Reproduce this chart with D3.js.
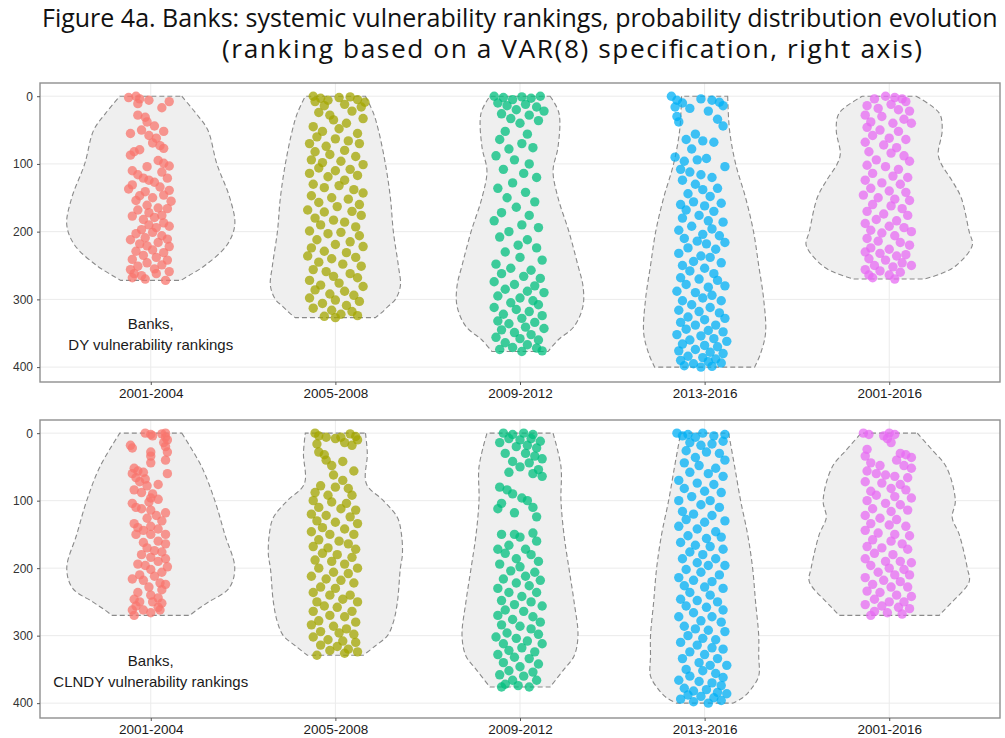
<!DOCTYPE html>
<html>
<head>
<meta charset="utf-8">
<script src="https://cdn.jsdelivr.net/npm/d3@7"></script>
<style>
  body { margin: 0; background: #fff; }
  svg { display: block; }
</style>
</head>
<body>
<svg id="chart" width="1005" height="738"></svg>
<script>
// categories, colours, ticks
var categories = ["2001-2004", "2005-2008", "2009-2012", "2013-2016", "2001-2016"];
var colors = ["#F8766D", "#A3A500", "#00BF7D", "#00B0F6", "#E76BF3"];
var yTicks = [0, 100, 200, 300, 400];
var titleLines = ["Figure 4a. Banks: systemic vulnerability rankings, probability distribution evolution",
  "(ranking based on a VAR(8) specification, right axis)"];
var panelNotes = [["Banks,", "DY vulnerability rankings"], ["Banks,", "CLNDY vulnerability rankings"]];

// violin outlines: [rank, half width in category units]
var violinDY = [
  [[0,.168],[25,.244],[50,.309],[100,.358],[150,.428],[190,.455],[220,.412],[250,.293],[265,.206],[272,.163]],
  [[0,.163],[25,.206],[50,.233],[100,.271],[150,.298],[200,.314],[250,.341],[280,.352],[300,.325],[310,.287],[320,.249],[327,.217]],
  [[0,.163],[25,.211],[75,.206],[110,.179],[150,.206],[200,.265],[250,.314],[280,.341],[310,.341],[340,.293],[360,.206],[377,.152]],
  [[0,.125],[50,.135],[100,.168],[150,.222],[200,.265],[250,.293],[300,.320],[350,.330],[380,.303],[400,.271]],
  [[0,.146],[25,.271],[50,.287],[85,.265],[100,.282],[125,.341],[150,.390],[200,.433],[220,.450],[250,.363],[262,.282],[270,.190]]
];
var violinCLNDY = [
  [[0,.168],[50,.276],[100,.347],[150,.401],[200,.455],[230,.423],[250,.314],[262,.249],[270,.211]],
  [[0,.163],[30,.173],[75,.168],[100,.260],[125,.336],[150,.358],[180,.363],[200,.352],[250,.336],[280,.314],[300,.282],[315,.217],[329,.152]],
  [[0,.179],[50,.222],[100,.222],[150,.238],[200,.265],[250,.293],[300,.314],[330,.293],[350,.238],[376,.163]],
  [[0,.130],[50,.163],[100,.195],[150,.233],[200,.260],[250,.276],[300,.293],[330,.293],[360,.293],[380,.249],[392,.206],[400,.152]],
  [[0,.152],[25,.233],[50,.309],[100,.358],[125,.341],[150,.379],[200,.423],[220,.433],[250,.341],[262,.298],[270,.271]]
];

// points: [jitter in hundredths of a category, rank]
var dy2001 = [[-12,2],[-8,0],[-6,4],[-7,11],[-1,6],[10,8],[6,17],[-7,28],[-3,31],[-2,38],[2,44],[-11,55],[-5,50],[-1,58],[3,62],[7,52],[1,69],[5,73],[7,77],
  [-9,82],[-11,87],[-6,79],[-10,110],[-7,116],[-4,121],[-2,104],[4,95],[7,99],[10,103],[6,112],[9,121],[2,127],[-1,124],
  [-10,131],[-12,137],[-3,141],[5,134],[10,139],[-6,147],[-8,154],[1,150],[7,146],[11,155],
  [-2,161],[4,165],[-7,168],[9,166],[-1,172],[2,179],[6,176],[-4,182],[7,187],[-10,177],[-1,190],[3,194],[10,192],
  [-5,197],[-8,203],[1,201],[6,206],[-3,209],[9,211],[-11,212],[-6,218],[-2,221],[4,216],[10,222],[-8,229],
  [1,227],[7,231],[-4,235],[3,238],[-10,241],[9,242],[-2,246],[6,249],[-7,251],[2,255],[-11,256],[-9,262],[-5,265],[3,262],[10,259],[-10,268],[-3,270],[8,272]];
var dy2005 = [[-12,0],[-8,3],[-4,6],[-11,8],[2,2],[8,1],[12,5],[16,9],[-6,14],[5,12],[14,16],
  [-9,24],[-3,28],[9,22],[-1,35],[6,40],[15,33],[-12,45],[-7,52],[2,48],[12,55],[-10,60],[0,63],[7,66],[-14,70],[-5,74],[13,70],
  [-11,82],[-3,86],[5,80],[11,89],[-13,94],[-7,98],[3,96],[15,101],[-9,106],[0,110],[8,108],[-14,114],[-4,119],[12,117],[5,124],
  [-12,130],[-6,135],[2,132],[10,138],[15,143],[-13,147],[-2,150],[7,152],[-9,157],[13,160],[1,163],[-15,168],[-6,171],[9,170],[14,176],
  [-11,180],[-1,183],[5,186],[-8,190],[11,193],[-14,199],[-4,203],[3,201],[13,206],[-10,212],[8,215],[0,219],[-13,224],[15,222],[-6,229],[6,231],
  [-15,236],[-2,240],[11,238],[-9,245],[4,248],[14,251],[-12,256],[-5,259],[8,262],[-1,266],[12,268],[-14,272],[2,276],[-8,279],[15,281],
  [-11,286],[5,288],[-3,292],[10,294],[-14,298],[0,301],[13,303],[-7,306],[6,309],[-12,313],[-2,316],[9,318],[3,322],[-6,325],[12,324],[0,327]];
var dy2009 = [[-14,0],[-9,2],[-4,5],[1,1],[6,3],[11,0],[-12,10],[-7,14],[3,12],[9,16],[-2,20],[13,22],[-10,26],[5,28],[-5,33],[10,36],[0,40],
  [-8,52],[4,56],[-11,64],[1,70],[-6,78],[7,76],[-13,88],[-3,94],[5,100],[-9,108],[2,114],[9,120],[-4,128],[-12,136],[3,142],[-7,150],[8,156],
  [-2,164],[-10,172],[5,176],[-14,184],[1,190],[10,194],[-6,200],[-11,208],[4,212],[-1,220],[9,224],[-8,230],[0,238],[12,242],[-13,248],
  [-5,254],[6,257],[-10,262],[2,266],[11,269],[-14,274],[-3,278],[8,280],[-8,285],[4,288],[13,290],[-12,295],[0,298],[7,302],[-5,305],
  [10,308],[-14,312],[-2,315],[5,318],[-9,322],[12,324],[1,328],[-12,332],[-6,336],[8,334],[3,341],[-10,345],[13,343],[-3,349],[6,352],
  [-13,356],[0,358],[10,360],[-8,364],[4,367],[-4,371],[9,372],[-11,374],[1,377],[12,376]];
var dy2013 = [[-18,0],[-15,6],[-12,10],[-16,16],[-2,4],[4,6],[8,9],[10,14],[-8,18],[2,22],[-15,30],[-14,38],[7,34],[10,44],
  [-5,56],[-10,64],[-1,66],[5,68],[-7,78],[-16,90],[-11,96],[-4,94],[1,92],[11,104],[-13,108],[-8,112],[-2,116],[4,120],[-12,124],
  [-5,130],[-1,138],[7,136],[-9,144],[3,148],[-6,156],[-13,160],[0,162],[9,158],[-10,168],[5,170],[-3,176],[-12,180],[2,184],[10,186],
  [-7,192],[-14,198],[4,196],[-1,204],[8,206],[-11,210],[-4,214],[1,218],[11,216],[-9,224],[6,226],[-14,232],[-2,236],[3,238],[-6,244],
  [9,246],[-12,250],[0,254],[-8,258],[5,262],[-13,268],[-3,270],[7,272],[-10,278],[2,282],[11,280],[-15,288],[-5,290],[4,294],[-1,298],
  [-12,302],[9,302],[-7,308],[3,312],[-14,316],[-3,318],[8,320],[-9,326],[0,330],[11,328],[-13,334],[-5,338],[6,338],[-10,344],[2,346],
  [10,348],[-15,352],[-2,354],[5,358],[-8,360],[12,362],[-12,366],[0,368],[7,370],[-5,374],[-14,376],[3,378],[10,380],[-9,384],[-1,386],
  [6,388],[-13,390],[2,392],[-6,395],[9,394],[-11,398],[-2,400],[4,399]];
var dy2016 = [[-2,0],[3,2],[7,4],[-8,4],[9,8],[-12,14],[1,12],[-6,18],[5,20],[11,22],[-13,28],[-4,30],[8,34],[-10,38],[2,40],[12,40],
  [-12,46],[-5,50],[5,52],[-9,58],[0,62],[9,64],[-13,68],[-3,72],[4,76],[-11,82],[1,84],[8,88],[-7,94],[11,96],[-12,102],[-2,104],
  [5,108],[-9,114],[2,118],[10,120],[-13,124],[-4,128],[6,130],[-10,136],[0,140],[9,142],[-14,146],[-6,150],[3,152],[11,154],[-9,160],
  [1,162],[7,166],[-12,170],[-3,174],[10,176],[-7,182],[4,184],[-13,188],[0,192],[8,194],[-10,198],[-4,202],[12,200],[3,206],[-12,210],
  [-6,214],[6,216],[11,220],[-10,224],[0,226],[-13,230],[-5,232],[4,236],[9,234],[-11,240],[-2,242],[7,246],[-8,250],[2,252],[12,250],
  [-13,256],[-5,258],[6,260],[-11,264],[0,264],[-9,268],[3,270]];

var cl2001 = [[-3,0],[0,2],[1,4],[6,1],[8,0],[8,6],[9,10],[-11,18],[-10,22],[7,14],[8,20],[0,28],[0,34],[9,28],[8,40],[9,60],[0,44],
  [-9,52],[-7,56],[-10,60],[-4,58],[-8,66],[-6,72],[-3,68],[-2,78],[4,76],[-9,84],[-5,88],[1,90],[0,96],[-1,102],[4,98],[-10,104],
  [-8,110],[-5,112],[0,114],[8,118],[3,122],[-2,126],[6,130],[-9,134],[-7,140],[-4,144],[0,138],[4,142],[8,150],[-8,150],[0,150],
  [4,160],[-4,162],[8,164],[-2,170],[2,174],[6,176],[-5,180],[0,184],[8,186],[-7,194],[-3,196],[4,190],[9,198],[0,202],[6,206],
  [-6,210],[2,212],[-10,216],[-4,218],[5,222],[8,224],[-1,228],[6,232],[-7,236],[0,240],[4,244],[-9,246],[-6,250],[-8,256],[1,250],
  [6,252],[-10,262],[-4,262],[0,266],[4,258],[-9,270],[5,262]];
var cl2005 = [[-11,0],[-9,4],[-5,6],[0,8],[3,6],[8,1],[11,5],[12,10],[5,14],[-10,16],[9,18],[-9,28],[-6,32],[-5,40],[4,42],[-2,48],[10,56],[-1,62],
  [4,70],[-8,78],[0,80],[7,82],[-11,88],[-4,92],[9,92],[-12,100],[-2,102],[6,104],[-9,110],[3,112],[11,114],[-13,120],[-5,122],[8,124],
  [-10,130],[0,132],[12,134],[-7,140],[5,142],[-13,146],[-3,150],[10,150],[-9,158],[2,160],[7,164],[-12,168],[-4,170],[11,172],[-7,178],
  [1,180],[9,184],[-11,188],[-2,190],[5,194],[-9,200],[12,200],[-1,206],[7,208],[-13,212],[-5,216],[3,218],[10,222],[-8,228],[0,230],
  [-12,236],[-3,240],[8,240],[4,246],[-10,250],[12,250],[-6,256],[1,258],[-12,264],[9,264],[-3,270],[5,272],[-9,278],[11,280],[-13,284],
  [-1,286],[6,290],[-8,294],[2,296],[10,298],[-12,302],[-4,306],[4,308],[11,310],[-8,314],[1,316],[7,320],[-3,322],[12,324],[-10,329],[5,326]];
var cl2009 = [[-9,0],[-4,2],[2,0],[7,2],[-6,8],[0,10],[6,8],[11,12],[-11,14],[4,18],[-2,20],[9,22],[-8,30],[3,30],[8,34],[12,38],[-4,42],[5,44],
  [0,50],[10,54],[-6,58],[7,60],[12,64],[-11,80],[-7,84],[-4,90],[1,96],[4,100],[-10,104],[-12,112],[7,110],[-3,118],[9,124],
  [-10,150],[-3,150],[0,154],[7,148],[9,160],[-6,166],[-12,172],[3,172],[-8,178],[6,180],[-2,186],[10,190],[-11,194],[0,198],[-5,204],
  [8,206],[3,212],[-9,216],[11,218],[-2,222],[5,226],[-12,230],[-6,236],[9,236],[1,242],[-10,248],[6,250],[-3,254],[12,256],[-8,262],
  [2,264],[-12,270],[7,272],[-4,276],[11,280],[-10,284],[0,286],[6,290],[-7,296],[10,298],[-13,302],[-2,304],[4,308],[-9,312],[12,312],
  [1,318],[-6,322],[8,324],[-12,328],[-3,332],[5,334],[-9,340],[10,342],[0,346],[-6,352],[7,354],[-11,358],[2,360],[-4,366],[9,366],
  [-8,372],[-1,374],[5,376],[-10,376]];
var cl2013 = [[-15,0],[-12,4],[-9,2],[-5,6],[-1,0],[5,4],[11,2],[10,12],[-8,14],[-2,18],[4,16],[-10,26],[1,28],[8,30],[-5,36],[11,40],[-11,44],
  [-3,48],[6,52],[-8,58],[2,60],[10,64],[-14,70],[-4,74],[5,76],[-11,82],[0,86],[9,88],[-7,94],[-14,100],[3,100],[-2,106],[8,110],
  [-12,116],[-6,120],[4,122],[-10,128],[0,132],[11,130],[-14,138],[-4,142],[6,146],[-9,152],[1,156],[9,154],[-13,162],[-5,166],[3,168],
  [10,172],[-8,176],[-1,180],[-12,186],[6,186],[-4,192],[2,196],[11,196],[-10,202],[-2,206],[8,210],[-14,214],[-6,218],[4,220],[-11,226],
  [0,228],[10,230],[-8,236],[3,240],[-13,246],[-4,248],[7,250],[-10,256],[1,258],[10,262],[-6,266],[-14,272],[4,272],[-2,278],[9,280],
  [-11,286],[-5,290],[2,292],[11,294],[-9,300],[-1,304],[6,306],[-13,310],[-4,314],[4,318],[10,320],[-8,324],[0,328],[-12,334],[7,334],
  [-3,340],[3,344],[12,344],[-10,350],[-1,352],[6,356],[-8,360],[10,362],[-14,366],[-3,368],[4,370],[9,374],[-11,378],[-6,382],[1,380],
  [7,384],[12,386],[-9,388],[-2,390],[5,392],[-13,394],[-6,398],[2,400],[9,396]];
var cl2016 = [[-14,0],[-11,2],[-3,4],[0,0],[3,2],[-1,8],[1,14],[-12,24],[-13,34],[6,30],[9,32],[12,36],[4,40],[-10,44],[-5,48],[8,48],[12,52],
  [-12,56],[-7,60],[-2,62],[3,64],[10,66],[-13,72],[-4,74],[6,76],[1,82],[-10,86],[9,84],[-7,92],[3,94],[12,96],[-12,100],[-2,104],
  [6,106],[-9,112],[1,116],[10,114],[-13,122],[-5,126],[4,128],[-10,134],[0,136],[9,138],[-13,144],[-6,148],[3,150],[11,152],[-9,158],
  [1,160],[7,164],[-12,168],[-4,170],[10,172],[-8,178],[2,180],[-13,186],[-2,190],[6,190],[12,192],[-10,196],[0,200],[8,202],[-6,206],
  [3,210],[11,210],[-13,214],[-3,218],[6,220],[-9,224],[1,228],[10,228],[-12,234],[-5,236],[4,240],[12,242],[-8,246],[0,250],[8,250],
  [-13,254],[-4,256],[5,258],[11,260],[-8,264],[-1,266],[-10,270],[7,268]];

var panels = [
  {top: 83, bottom: 382, violins: violinDY, points: [dy2001, dy2005, dy2009, dy2013, dy2016], note: panelNotes[0]},
  {top: 420, bottom: 718, violins: violinCLNDY, points: [cl2001, cl2005, cl2009, cl2013, cl2016], note: panelNotes[1]}
];

var svg = d3.select('#chart');
var left = 40, right = 1000;
var x = d3.scaleLinear().domain([0.4, 5.6]).range([left, right]);

// title
var titleFont = '"Open Sans", "Noto Sans", sans-serif';
var t1 = svg.append('text').attr('x', 42).attr('y', 27)
  .style('font-family', titleFont).style('font-size', '22px').attr('fill', '#111')
  .text(titleLines[0]);
var fs = 22 * 956 / t1.node().getComputedTextLength();
t1.style('font-size', fs + 'px');
svg.append('text').attr('x', 222).attr('y', 58)
  .style('font-family', titleFont).style('font-size', (fs * 1.05) + 'px').attr('fill', '#111')
  .attr('textLength', 700).attr('lengthAdjust', 'spacing')
  .text(titleLines[1]);

panels.forEach(function (p) {
  var y = d3.scaleLinear().domain([-19.5, 422]).range([p.top, p.bottom]);
  var g = svg.append('g');

  // grid
  g.selectAll('line.hg').data(yTicks).enter().append('line')
    .attr('x1', left).attr('x2', right).attr('y1', function (d) { return y(d); }).attr('y2', function (d) { return y(d); })
    .attr('stroke', '#ebebeb').attr('stroke-width', 1);
  g.selectAll('line.vg').data(categories).enter().append('line')
    .attr('x1', function (d, i) { return x(i + 1); }).attr('x2', function (d, i) { return x(i + 1); })
    .attr('y1', p.top).attr('y2', p.bottom)
    .attr('stroke', '#ebebeb').attr('stroke-width', 1);

  // violins
  p.violins.forEach(function (prof, i) {
    var area = d3.area()
      .y(function (d) { return y(d[0]); })
      .x0(function (d) { return x(i + 1 - d[1]); })
      .x1(function (d) { return x(i + 1 + d[1]); })
      .curve(d3.curveCatmullRom.alpha(0.5));
    g.append('path').attr('d', area(prof))
      .attr('fill', '#efefef').attr('stroke', '#8a8a8a').attr('stroke-width', 1.1)
      .attr('stroke-dasharray', '5,3');
  });

  // points
  p.points.forEach(function (pts, i) {
    g.append('g').selectAll('circle').data(pts).enter().append('circle')
      .attr('cx', function (d) { return x(i + 1 + d[0] / 100); })
      .attr('cy', function (d) { return y(d[1]); })
      .attr('r', 4.7)
      .attr('fill', colors[i]).attr('fill-opacity', 0.75);
  });

  // note
  g.selectAll('text.note').data(p.note).enter().append('text')
    .attr('x', x(1)).attr('y', function (d, k) { return y(k ? 368 : 337) + 5; })
    .attr('text-anchor', 'middle')
    .style('font-family', '"Liberation Sans", Arial, sans-serif').style('font-size', '15px')
    .attr('fill', '#1a1a1a').text(function (d) { return d; });

  // border
  g.append('rect').attr('x', left).attr('y', p.top).attr('width', right - left).attr('height', p.bottom - p.top)
    .attr('fill', 'none').attr('stroke', '#8f8f8f').attr('stroke-width', 1.4);

  // axes
  var ya = g.append('g').attr('transform', 'translate(' + left + ',0)')
    .call(d3.axisLeft(y).tickValues(yTicks).tickSize(3).tickPadding(4));
  ya.select('.domain').remove();
  ya.selectAll('line').attr('stroke', '#555');
  ya.selectAll('text').style('font-family', '"Liberation Sans", Arial, sans-serif').style('font-size', '12px').attr('fill', '#333');

  var xa = g.append('g').attr('transform', 'translate(0,' + p.bottom + ')')
    .call(d3.axisBottom(x).tickValues([1, 2, 3, 4, 5]).tickFormat(function (d) { return categories[d - 1]; })
      .tickSize(3).tickPadding(3));
  xa.select('.domain').remove();
  xa.selectAll('line').attr('stroke', '#555');
  xa.selectAll('text').style('font-family', '"Liberation Sans", Arial, sans-serif').style('font-size', '13.5px').attr('fill', '#1a1a1a');
});
</script>
</body>
</html>
